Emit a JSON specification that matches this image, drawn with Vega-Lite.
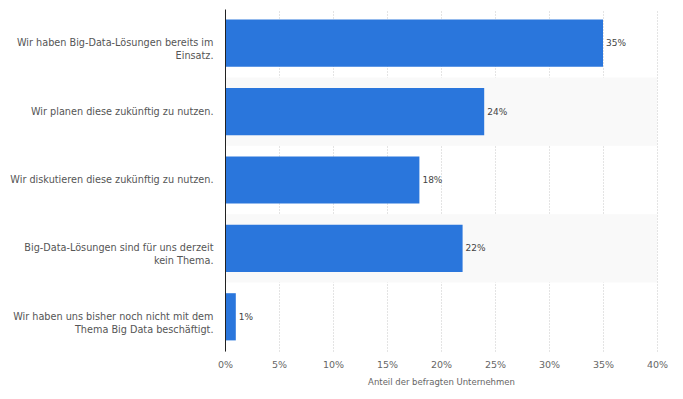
{
  "$schema": "https://vega.github.io/schema/vega-lite/v6.json",
  "width": 432,
  "height": 342,
  "autosize": {"type": "none"},
  "padding": {"left": 225, "top": 9, "right": 26, "bottom": 48},
  "background": "white",
  "config": {"view": {"stroke": null}, "font": "DejaVu Sans"},
  "data": {
    "values": [
      {"Antwort": "Wir haben Big-Data-Lösungen bereits im Einsatz.", "Anteil": 35},
      {"Antwort": "Wir planen diese zukünftig zu nutzen.", "Anteil": 24},
      {"Antwort": "Wir diskutieren diese zukünftig zu nutzen.", "Anteil": 18},
      {"Antwort": "Big-Data-Lösungen sind für uns derzeit kein Thema.", "Anteil": 22},
      {"Antwort": "Wir haben uns bisher noch nicht mit dem Thema Big Data beschäftigt.", "Anteil": 1}
    ]
  },
  "encoding": {
    "y": {
      "field": "Antwort",
      "type": "nominal",
      "sort": null,
      "scale": {
        "domain": [
          "Wir haben Big-Data-Lösungen bereits im Einsatz.",
          "Wir planen diese zukünftig zu nutzen.",
          "Wir diskutieren diese zukünftig zu nutzen.",
          "Big-Data-Lösungen sind für uns derzeit kein Thema.",
          "Wir haben uns bisher noch nicht mit dem Thema Big Data beschäftigt."
        ],
        "paddingInner": 0,
        "paddingOuter": 0
      },
      "axis": {
        "title": null,
        "ticks": false,
        "domain": true,
        "domainColor": "#222",
        "domainWidth": 1,
        "labelPadding": 12,
        "labelFontSize": 9.7,
        "labelColor": "#555",
        "labelLimit": 230,
        "labelLineHeight": 13,
        "labelExpr": "datum.value == 'Wir haben Big-Data-Lösungen bereits im Einsatz.' ? ['Wir haben Big-Data-Lösungen bereits im', 'Einsatz.'] : datum.value == 'Big-Data-Lösungen sind für uns derzeit kein Thema.' ? ['Big-Data-Lösungen sind für uns derzeit', 'kein Thema.'] : datum.value == 'Wir haben uns bisher noch nicht mit dem Thema Big Data beschäftigt.' ? ['Wir haben uns bisher noch nicht mit dem', 'Thema Big Data beschäftigt.'] : datum.value"
      }
    }
  },
  "layer": [
    {
      "transform": [
        {"window": [{"op": "row_number", "as": "rn"}]},
        {"filter": "datum.rn % 2 == 0"}
      ],
      "mark": {"type": "rect", "color": "#f9f9f9"},
      "encoding": {
        "x": {
          "datum": 0,
          "type": "quantitative",
          "scale": {"domain": [0, 40]},
          "axis": {
            "values": [0, 5, 10, 15, 20, 25, 30, 35, 40],
            "labelExpr": "datum.value + '%'",
            "labelFlush": false,
            "domain": false,
            "ticks": false,
            "grid": true,
            "gridColor": "#c8c8c8",
            "gridDash": [1, 2],
            "labelFontSize": 9.5,
            "labelColor": "#666",
            "labelPadding": 8,
            "title": "Anteil der befragten Unternehmen",
            "titleFontSize": 8.5,
            "titleFontWeight": "normal",
            "titleColor": "#666",
            "titlePadding": 9
          }
        },
        "x2": {"datum": 40}
      }
    },
    {
      "mark": {"type": "bar", "color": "#2a76dc", "height": {"band": 0.69}},
      "encoding": {
        "x": {
          "field": "Anteil",
          "type": "quantitative",
          "scale": {"domain": [0, 40]},
          "axis": {
            "values": [0, 5, 10, 15, 20, 25, 30, 35, 40],
            "labelExpr": "datum.value + '%'",
            "labelFlush": false,
            "domain": false,
            "ticks": false,
            "grid": true,
            "gridColor": "#c8c8c8",
            "gridDash": [1, 2],
            "labelFontSize": 9.5,
            "labelColor": "#666",
            "labelPadding": 8,
            "title": "Anteil der befragten Unternehmen",
            "titleFontSize": 8.5,
            "titleFontWeight": "normal",
            "titleColor": "#666",
            "titlePadding": 9
          }
        }
      }
    },
    {
      "transform": [{"calculate": "datum.Anteil + '%'", "as": "Label"}],
      "mark": {"type": "text", "align": "left", "baseline": "middle", "dx": 3, "fontSize": 9, "color": "#444"},
      "encoding": {
        "x": {"field": "Anteil", "type": "quantitative"},
        "text": {"field": "Label", "type": "nominal"}
      }
    }
  ]
}
